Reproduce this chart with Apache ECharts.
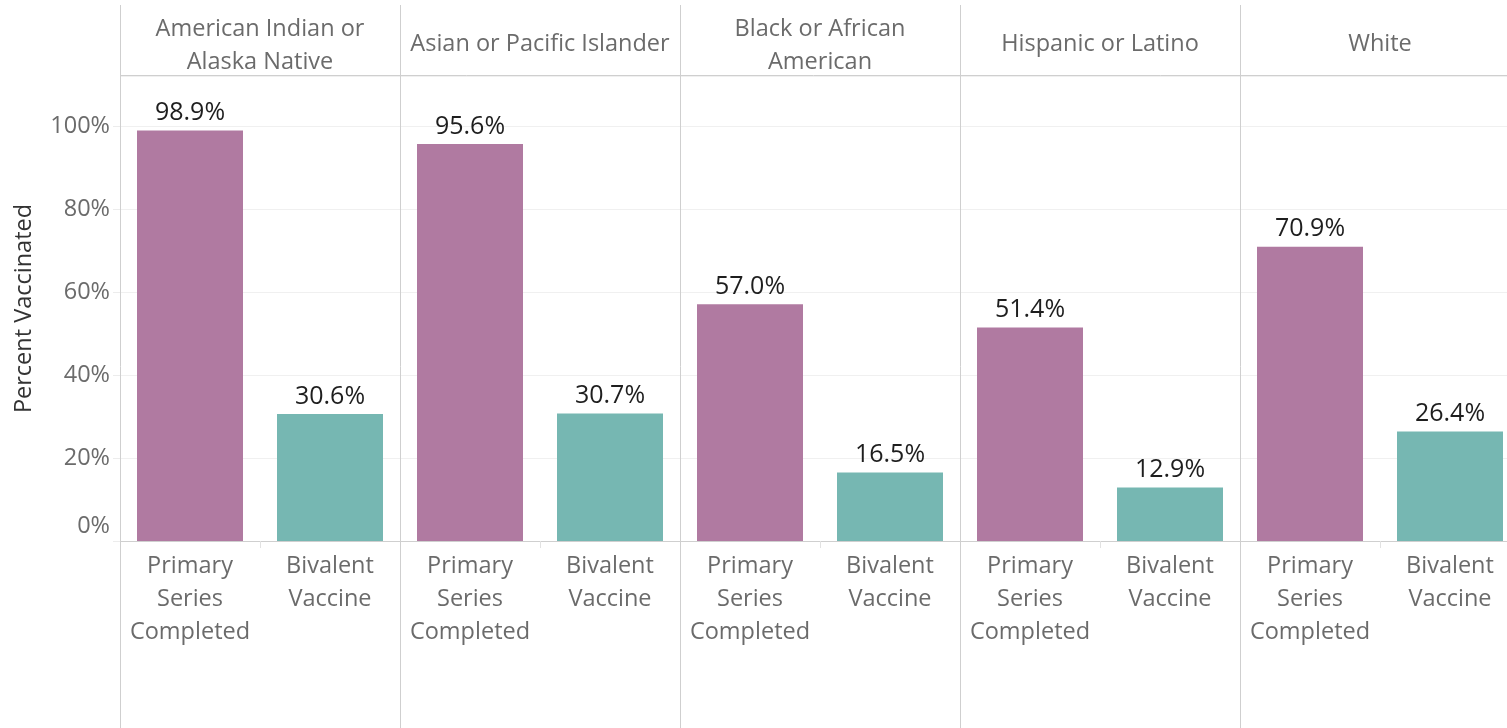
<!DOCTYPE html>
<html>
<head>
<meta charset="utf-8">
<script src="https://cdn.jsdelivr.net/npm/echarts@6/dist/echarts.min.js"></script>
<style>
html,body{margin:0;padding:0;background:#fff;}
#chart{width:1507px;height:728px;}
</style>
</head>
<body>
<div id="chart"></div>
<script>
const groups = ['American Indian or\nAlaska Native', 'Asian or Pacific Islander', 'Black or African\nAmerican', 'Hispanic or Latino', 'White'];
const measures = ['Primary\nSeries\nCompleted', 'Bivalent\nVaccine'];
const primarySeries = [98.9, 95.6, 57.0, 51.4, 70.9];
const bivalentVaccine = [30.6, 30.7, 16.5, 12.9, 26.4];
const yTicks = [0, 20, 40, 60, 80, 100];

const FONT = '"Open Sans", "Noto Sans", sans-serif';
const colors = ['#b07aa1', '#76b7b2'];
const panelLeft = 120, panelW = 280, plotTop = 76, baseY = 541, H = 728, W = 1507;
const GRAY = '#6b6b6b';

const grids = [], xAxes = [], yAxes = [], series = [], titles = [], graphics = [];
groups.forEach((g, i) => {
  const left = panelLeft + panelW * i;
  grids.push({left: left, width: panelW, top: plotTop, height: baseY - plotTop,
    containLabel: false, outerBoundsMode: 'none'});
  xAxes.push({
    type: 'category', gridIndex: i, data: measures,
    axisLine: {show: true, lineStyle: {color: '#cfcfcf', width: 1}},
    axisTick: {show: true, length: 7, lineStyle: {color: '#e2e2e2'}},
    axisLabel: {color: GRAY, fontSize: 23.5, fontFamily: FONT, lineHeight: 33, margin: 9, interval: 0}
  });
  yAxes.push({
    type: 'value', gridIndex: i, min: 0, max: 112, interval: 20,
    name: i === 0 ? 'Percent Vaccinated' : '',
    nameLocation: 'middle', nameRotate: 90, nameGap: 84,
    nameTextStyle: {color: '#333', fontSize: 23.5, fontFamily: FONT, fontWeight: 'normal'},
    axisLine: {show: false},
    axisTick: {show: i === 0, length: 7, lineStyle: {color: '#ececec'}},
    axisLabel: {show: i === 0, showMaxLabel: false, color: GRAY, fontSize: 23.5, fontFamily: FONT, margin: 10,
      formatter: v => (v === 0 ? '{z|0%}' : (yTicks.indexOf(v) >= 0 ? v + '%' : '')),
      rich: {z: {color: GRAY, fontSize: 23.5, fontFamily: FONT, padding: [0, 0, 30, 0]}}},
    splitLine: {show: true, lineStyle: {color: '#f0f0f0', width: 1}}
  });
  series.push({
    type: 'bar', xAxisIndex: i, yAxisIndex: i,
    data: [primarySeries[i], bivalentVaccine[i]],
    barWidth: 106,
    itemStyle: {color: p => colors[p.dataIndex]},
    label: {show: true, position: 'top', distance: 5, color: '#1e1e1e', fontSize: 25, fontFamily: FONT,
      formatter: p => p.value.toFixed(1) + '%'}
  });
  titles.push({
    text: g, left: left + panelW / 2, top: g.indexOf('\n') >= 0 ? 13 : 28, textAlign: 'center', padding: 0,
    textStyle: {color: GRAY, fontSize: 23.5, fontWeight: 'normal', fontFamily: FONT, lineHeight: 33}
  });
  graphics.push({type: 'line', shape: {x1: left + 0.5, y1: 5, x2: left + 0.5, y2: H}, style: {stroke: '#cfcfcf', lineWidth: 1}, z: 10});
});
graphics.push({type: 'line', shape: {x1: panelLeft, y1: 75.5, x2: W, y2: 75.5}, style: {stroke: '#cfcfcf', lineWidth: 1}, z: 10});

const chart = echarts.init(document.getElementById('chart'), null, {renderer: 'canvas'});
chart.setOption({
  animation: false,
  backgroundColor: '#fff',
  title: titles,
  grid: grids,
  xAxis: xAxes,
  yAxis: yAxes,
  series: series,
  graphic: graphics
});
</script>
</body>
</html>
